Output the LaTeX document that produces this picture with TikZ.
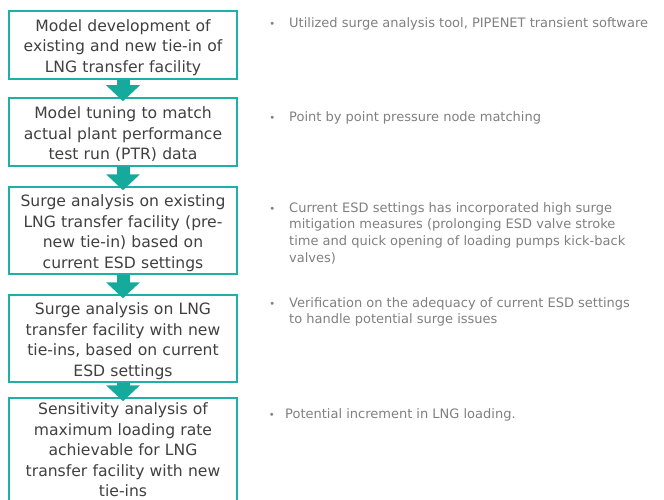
\documentclass[tikz,border=0pt]{standalone}
\usepackage{fontspec}
\setmainfont{DejaVu Sans}
\usetikzlibrary{arrows.meta}

\definecolor{tealline}{RGB}{30,176,164}
\definecolor{tealfill}{RGB}{22,170,156}
\definecolor{boxtext}{RGB}{64,64,64}
\definecolor{notetext}{RGB}{128,128,128}

% small bullet hung left of a note
\newcommand{\notedot}[1]{\leavevmode\llap{{\fontsize{10}{10}\selectfont •}\hspace{#1}}}

\tikzset{
  stagebox/.style={draw=tealline, line width=1.5pt, fill=white, minimum width=228pt,
    text width=222pt, align=center, text=boxtext, inner sep=0pt,
    font=\fontsize{15.6}{20.5}\selectfont},
  droptext/.style={execute at begin node={\rule{0pt}{17pt}}},
  flowarrow/.style={draw=tealfill, line width=13pt,
    -{Triangle[width=33pt,length=16pt,fill=tealfill]}},
  note/.style={anchor=north west, inner sep=0pt, align=left, text=notetext,
    font=\fontsize{13}{16.7}\selectfont}
}

\begin{document}
\begin{tikzpicture}[x=1pt, y=-1pt]
  \useasboundingbox (0,0) rectangle (664,500);

  \node[stagebox, droptext, minimum height=68pt] (model) at (123,45)
    {Model development of\\existing and new tie-in of\\LNG transfer facility};
  \node[stagebox, droptext, minimum height=68pt] (tuning) at (123,132)
    {Model tuning to match\\actual plant performance\\test run (PTR) data};
  \node[stagebox, droptext, minimum height=87pt] (preTie) at (123,230.5)
    {Surge analysis on existing\\LNG transfer facility (pre-\\new tie-in) based on\\current ESD settings};
  \node[stagebox, droptext, minimum height=87pt] (newTie) at (123,338.5)
    {Surge analysis on LNG\\transfer facility with new\\tie-ins, based on current\\ESD settings};
  \node[stagebox, minimum height=104pt] (sens) at (123,450)
    {Sensitivity analysis of\\maximum loading rate\\achievable for LNG\\transfer facility with new\\tie-ins};

  \draw[flowarrow] (model.south) -- ([yshift=-4pt]tuning.north);
  \draw[flowarrow] (tuning.south) -- ([yshift=-4pt]preTie.north);
  \draw[flowarrow] (preTie.south) -- ([yshift=-4pt]newTie.north);
  \draw[flowarrow] (newTie.south) -- ([yshift=-4pt]sens.north);

  % notes on the right
  \node[note] (noteA) at (289,17) {\notedot{14pt}Utilized surge analysis tool, PIPENET transient software};
  \node[note] (noteB) at (289,111) {\notedot{14pt}Point by point pressure node matching};
  \node[note] (noteC) at (289,202) {\notedot{14pt}Current ESD settings has incorporated high surge\\mitigation measures (prolonging ESD valve stroke\\time and quick opening of loading pumps kick-back\\valves)};
  \node[note] (noteD) at (289,297) {\notedot{14pt}Verification on the adequacy of current ESD settings\\to handle potential surge issues};
  \node[note] (noteE) at (285,408) {\notedot{10.5pt}Potential increment in LNG loading.};
\end{tikzpicture}
\end{document}
